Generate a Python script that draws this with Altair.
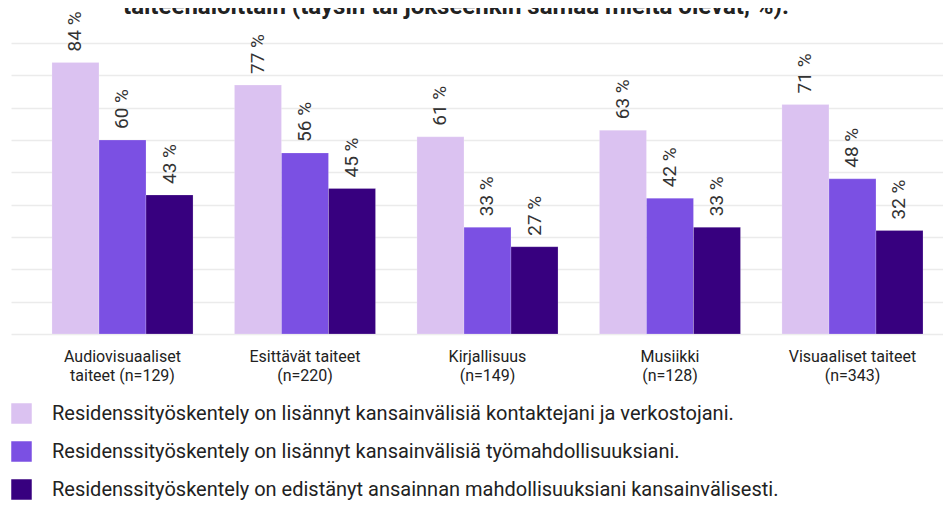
import altair as alt
import pandas as pd

# ---- data ----
categories = [
    "Audiovisuaaliset\ntaiteet (n=129)",
    "Esittävät taiteet\n(n=220)",
    "Kirjallisuus\n(n=149)",
    "Musiikki\n(n=128)",
    "Visuaaliset taiteet\n(n=343)",
]
series = [
    "Residenssityöskentely on lisännyt kansainvälisiä kontaktejani ja verkostojani.",
    "Residenssityöskentely on lisännyt kansainvälisiä työmahdollisuuksiani.",
    "Residenssityöskentely on edistänyt ansainnan mahdollisuuksiani kansainvälisesti.",
]
contacts = [84, 77, 61, 63, 71]
work = [60, 56, 33, 42, 48]
income = [43, 45, 27, 33, 32]
colors = ["#DBC2F1", "#7B50E3", "#37007F"]
title_text = "taiteenaloittain (täysin tai jokseenkin samaa mieltä olevat, %)."

rows = []
for s, vals in zip(series, [contacts, work, income]):
    for c, v in zip(categories, vals):
        rows.append({"category": c, "series": s, "value": v, "label": f"{v} %"})
df = pd.DataFrame(rows)

FONT = "Roboto"

x_enc = alt.X(
    "category:N",
    sort=categories,
    scale=alt.Scale(paddingInner=0.227, paddingOuter=0.167, align=0.672),
    axis=alt.Axis(
        title=None,
        labelAngle=0,
        labelExpr="split(datum.label, '\\n')",
        labelFontSize=16,
        labelLineHeight=19,
        labelPadding=14,
        labelFont=FONT,
        labelColor="#222222",
        labelLimit=300,
        ticks=False,
        domain=False,
        grid=False,
    ),
)
xoff_enc = alt.XOffset("series:N", sort=series, scale=alt.Scale(paddingInner=0, paddingOuter=0))
y_enc = alt.Y(
    "value:Q",
    scale=alt.Scale(domain=[0, 90], nice=False),
    axis=alt.Axis(
        title=None,
        labels=False,
        ticks=False,
        domain=False,
        values=list(range(0, 100, 10)),
        gridColor="#ebebeb",
        gridWidth=1.3,
    ),
)

base = alt.Chart(df)

bars = base.mark_bar(stroke="white", strokeWidth=0.6, strokeOpacity=0.35).encode(
    x=x_enc,
    xOffset=xoff_enc,
    y=y_enc,
    color=alt.Color(
        "series:N",
        sort=series,
        scale=alt.Scale(domain=series, range=colors),
        legend=alt.Legend(
            title=None,
            orient="none",
            legendX=0,
            legendY=360,
            direction="vertical",
            symbolType="square",
            symbolSize=420,
            symbolStrokeWidth=0,
            symbolOpacity=1,
            labelFontSize=20,
            labelFont=FONT,
            labelColor="#222222",
            labelLimit=900,
            labelOffset=20,
            rowPadding=17,
        ),
    ),
)

labels = base.mark_text(
    angle=270, align="left", baseline="middle", dx=11, fontSize=19, font=FONT, color="#333333"
).encode(x=x_enc, xOffset=xoff_enc, y=y_enc, text="label:N")

title = alt.Chart(pd.DataFrame({"t": [title_text]})).mark_text(
    fontSize=24, fontWeight="bold", font=FONT, color="#222222", align="center", baseline="alphabetic"
).encode(text="t:N", x=alt.value(445), y=alt.value(-29))

chart = (
    alt.layer(bars, labels, title)
    .properties(
        width=932,
        height=291,
        autosize=alt.AutoSizeParams(type="none"),
        padding={"left": 3, "top": 35, "right": 0, "bottom": 170},
    )
    .configure_view(stroke=None)
)

chart.save("out.html", embed_options={"renderer": "svg", "actions": False})
